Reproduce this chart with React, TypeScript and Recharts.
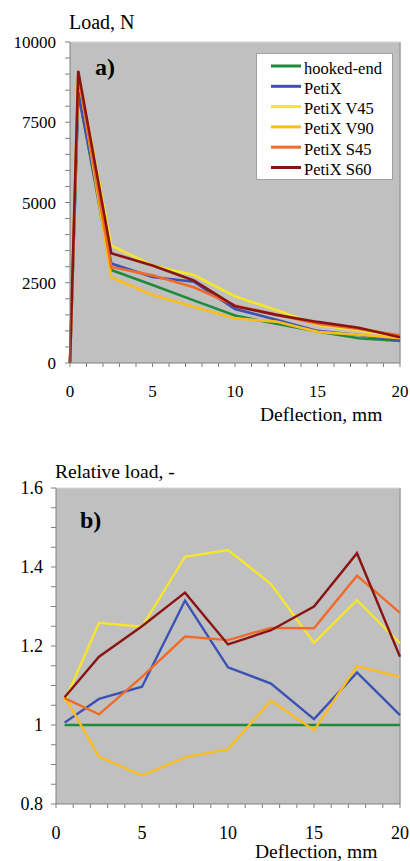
import React from 'react';
import { LineChart, Line, XAxis, YAxis, CartesianGrid, Legend, ReferenceLine } from 'recharts';

const deflectionA = [0, 0.5, 2.5, 5, 7.5, 10, 12.5, 15, 17.5, 20];
const hookedA = [0, 8450, 2900, 2430, 1950, 1480, 1220, 980, 770, 690];
const petixA = [0, 8400, 3100, 2680, 2530, 1680, 1350, 1000, 870, 710];
const v45A = [0, 9050, 3660, 3040, 2740, 2080, 1650, 1190, 1010, 830];
const v90A = [0, 9000, 2670, 2120, 1750, 1390, 1290, 970, 880, 770];
const s45A = [0, 8950, 2990, 2730, 2360, 1790, 1510, 1220, 1060, 860];
const s60A = [0, 9100, 3420, 3040, 2570, 1770, 1500, 1280, 1100, 800];

const deflectionB = [0.5, 2.5, 5, 7.5, 10, 12.5, 15, 17.5, 20];
const hookedB = [1, 1, 1, 1, 1, 1, 1, 1, 1];
const petixB = [1.006, 1.066, 1.097, 1.315, 1.146, 1.105, 1.015, 1.133, 1.025];
const v45B = [1.06, 1.259, 1.249, 1.426, 1.443, 1.357, 1.208, 1.316, 1.207];
const v90B = [1.072, 0.92, 0.872, 0.918, 0.939, 1.062, 0.987, 1.149, 1.122];
const s45B = [1.068, 1.027, 1.122, 1.224, 1.215, 1.246, 1.245, 1.378, 1.284];
const s60B = [1.07, 1.173, 1.25, 1.335, 1.204, 1.24, 1.3, 1.435, 1.173];

const seriesNames = ['hooked-end', 'PetiX', 'PetiX V45', 'PetiX V90', 'PetiX S45', 'PetiX S60'];
const seriesColors = ['#1f8a3a', '#3b52b4', '#f5e52c', '#fbbd1e', '#f06a2a', '#8a1414'];

const xTicks = [0, 1, 2, 3, 4, 5, 6, 7, 8, 9, 10, 11, 12, 13, 14, 15, 16, 17, 18, 19, 20];
const xMajor = [0, 5, 10, 15, 20];
const yTicksA = [0, 500, 1000, 1500, 2000, 2500, 3000, 3500, 4000, 4500, 5000, 5500, 6000, 6500, 7000, 7500, 8000, 8500, 9000, 9500, 10000];
const yMajorA = [0, 2500, 5000, 7500, 10000];
const yTicksB = [0.8, 0.85, 0.9, 0.95, 1, 1.05, 1.1, 1.15, 1.2, 1.25, 1.3, 1.35, 1.4, 1.45, 1.5, 1.55, 1.6];
const yMajorB = ['0.8', '1', '1.2', '1.4', '1.6'];

const keys = ['hooked', 'petix', 'v45', 'v90', 's45', 's60'];
const seriesA = [hookedA, petixA, v45A, v90A, s45A, s60A];
const seriesB = [hookedB, petixB, v45B, v90B, s45B, s60B];

const dataA = deflectionA.map((x, i) => {
  const row: any = { x };
  keys.forEach((k, j) => { row[k] = seriesA[j][i]; });
  return row;
});
const dataB = deflectionB.map((x, i) => {
  const row: any = { x };
  keys.forEach((k, j) => { row[k] = seriesB[j][i]; });
  return row;
});

const FONT = '"Liberation Serif", "DejaVu Serif", serif';

const fmtB = (v: number) => {
  const s = v === 1 ? '1' : v.toFixed(1);
  return yMajorB.includes(s) && Math.abs(v * 5 - Math.round(v * 5)) < 1e-6 ? s : '';
};

const LegendBox = () => (
  <div style={{ width: 137, height: 127, background: '#fff', border: '1px solid #a0a0a0', boxSizing: 'border-box', position: 'relative' }}>
    <svg width={137} height={127} style={{ position: 'absolute', left: 0, top: 0 }}>
      {seriesNames.map((n, i) => (
        <g key={n}>
          <line x1={14} x2={44} y1={12 + i * 20.3} y2={12 + i * 20.3} stroke={seriesColors[i]} strokeWidth={3} />
          <text x={47} y={19.5 + i * 20.3} fontFamily={FONT} fontSize={16.5} fill="#000">{n}</text>
        </g>
      ))}
    </svg>
  </div>
);

export default function App() {
  const tickStyle = { fontFamily: FONT, fill: '#000' };
  return (
    <div style={{ position: 'absolute', left: 0, top: 0, width: 410, height: 861, background: '#fff', fontFamily: FONT }}>
      <div style={{ position: 'absolute', left: 0, top: 0, fontFamily: FONT }}>
        <LineChart width={410} height={430} data={dataA} margin={{ top: 42, right: 10, bottom: 37, left: 10 }} style={{ fontFamily: FONT }}>
          <CartesianGrid fill="#c0c0c0" horizontal={false} vertical={false} />
          <ReferenceLine x={20} stroke="#9c9c9c" strokeWidth={1.5} />
          <ReferenceLine y={10000} stroke="#d4d4d4" strokeWidth={1} />
          <XAxis dataKey="x" type="number" domain={[0, 20]} ticks={xTicks} interval={0} height={30}
            tickFormatter={(v: number) => (xMajor.includes(v) ? String(v) : '')}
            tick={{ ...tickStyle, fontSize: 17 }} tickSize={4} tickMargin={18}
            axisLine={{ stroke: '#808080' }} tickLine={{ stroke: '#808080' }} />
          <YAxis type="number" domain={[0, 10000]} ticks={yTicksA} interval={0} width={60}
            tickFormatter={(v: number) => (yMajorA.includes(v) ? String(v) : '')}
            tick={{ ...tickStyle, fontSize: 17 }} tickSize={5} tickMargin={9}
            axisLine={{ stroke: '#808080' }} tickLine={{ stroke: '#808080' }} />
          <Legend layout="horizontal" verticalAlign="middle" align="center"
            wrapperStyle={{ position: 'absolute', left: 256, top: 53, width: 137, height: 127 }}
            content={() => <LegendBox />} />
          {keys.map((k, i) => (
            <Line key={k} type="linear" dataKey={k} name={seriesNames[i]} stroke={seriesColors[i]} strokeWidth={2.6}
              dot={false} isAnimationActive={false} />
          ))}
        </LineChart>
      </div>
      <div style={{ position: 'absolute', left: 0, top: 430, fontFamily: FONT }}>
        <LineChart width={410} height={431} data={dataB} margin={{ top: 58, right: 10, bottom: 27, left: 6 }} style={{ fontFamily: FONT }}>
          <CartesianGrid fill="#c0c0c0" horizontal={false} vertical={false} />
          <ReferenceLine x={20} stroke="#9c9c9c" strokeWidth={1.5} />
          <ReferenceLine y={1.6} stroke="#d4d4d4" strokeWidth={1} />
          <XAxis dataKey="x" type="number" domain={[0, 20]} ticks={xTicks} interval={0} height={30}
            tickFormatter={(v: number) => (xMajor.includes(v) ? String(v) : '')}
            tick={{ ...tickStyle, fontSize: 18 }} tickSize={4} tickMargin={18}
            axisLine={{ stroke: '#808080' }} tickLine={{ stroke: '#808080' }} />
          <YAxis type="number" domain={[0.8, 1.6]} ticks={yTicksB} interval={0} width={50}
            tickFormatter={fmtB}
            tick={{ ...tickStyle, fontSize: 18 }} tickSize={5} tickMargin={8}
            axisLine={{ stroke: '#808080' }} tickLine={{ stroke: '#808080' }} />
          {keys.map((k, i) => (
            <Line key={k} type="linear" dataKey={k} name={seriesNames[i]} stroke={seriesColors[i]} strokeWidth={2.4}
              dot={false} isAnimationActive={false} />
          ))}
        </LineChart>
      </div>
      <svg width={410} height={861} style={{ position: 'absolute', left: 0, top: 0, pointerEvents: 'none' }}>
        <text x={69} y={29} fontFamily={FONT} fontSize={20} fill="#000">Load, N</text>
        <text x={95} y={75} fontFamily={FONT} fontSize={24} fontWeight="bold" fill="#000">a)</text>
        <text x={260} y={421} fontFamily={FONT} fontSize={19.5} fill="#000">Deflection, mm</text>
        <text x={55} y={478} fontFamily={FONT} fontSize={19.5} fill="#000">Relative load, -</text>
        <text x={80} y={528} fontFamily={FONT} fontSize={24} fontWeight="bold" fill="#000">b)</text>
        <text x={255} y={858} fontFamily={FONT} fontSize={19.5} fill="#000">Deflection, mm</text>
      </svg>
    </div>
  );
}
